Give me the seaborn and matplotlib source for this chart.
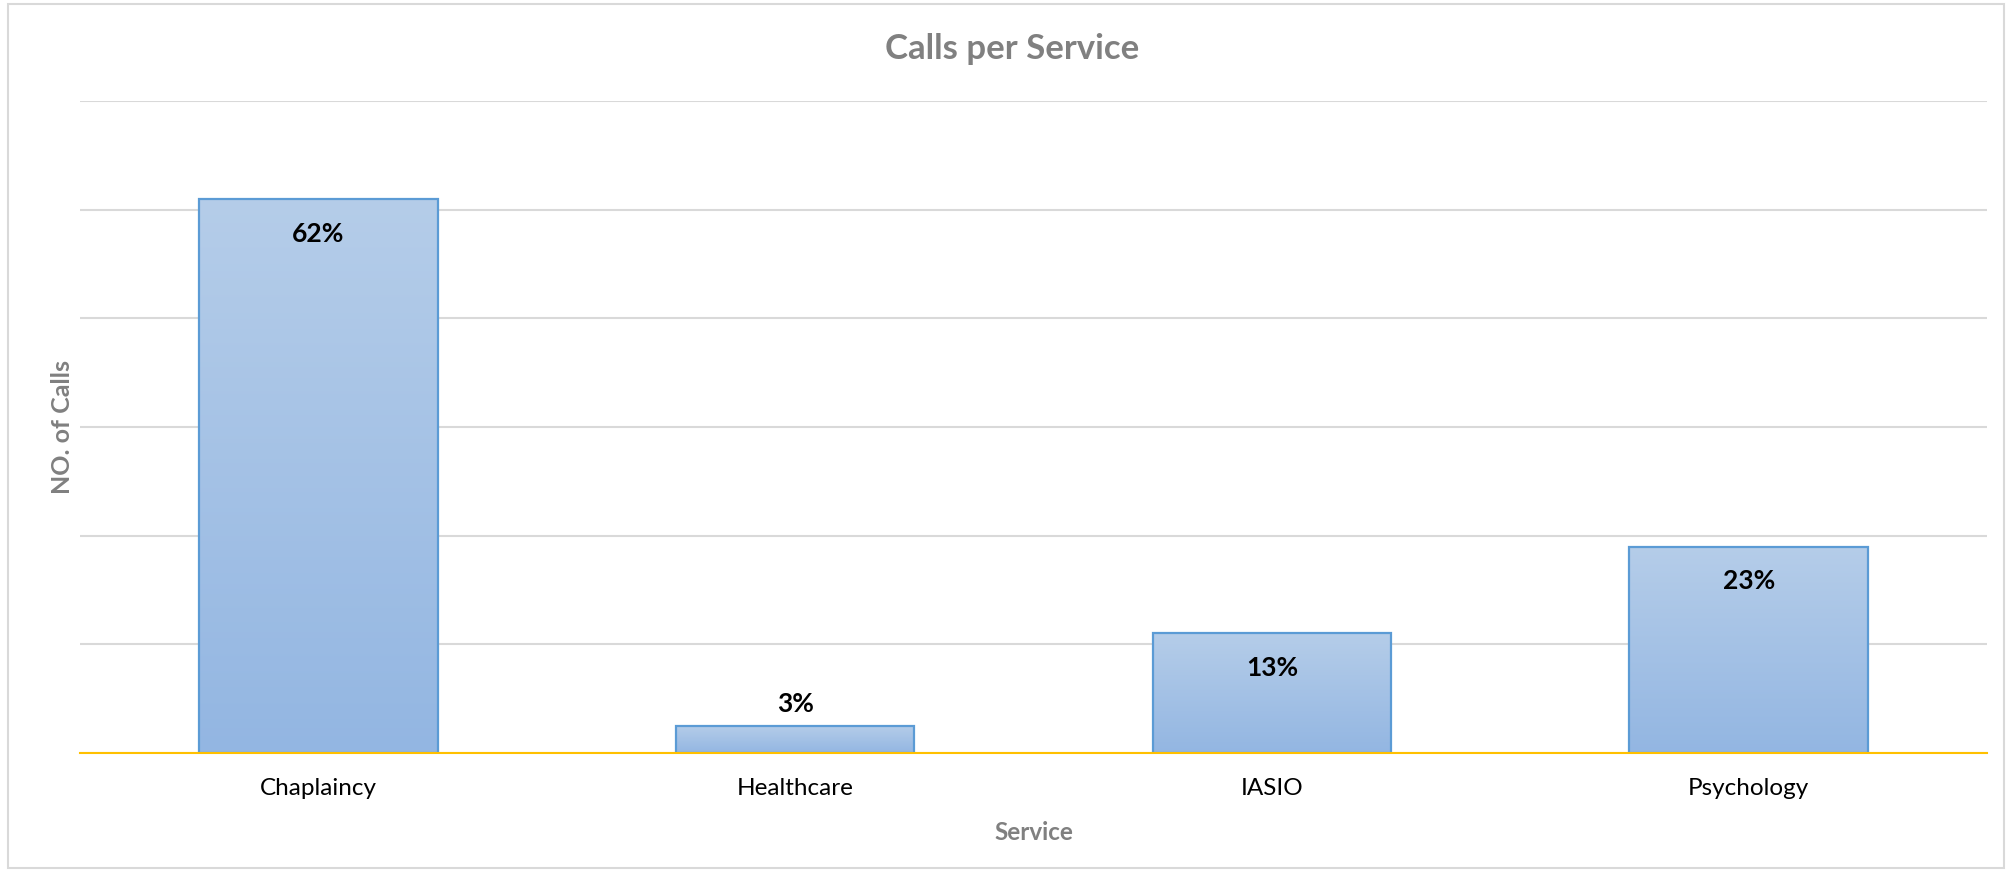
import numpy as np
import pandas as pd
import matplotlib
matplotlib.use("Agg")
import matplotlib.pyplot as plt
import matplotlib.patches as mpatches
from matplotlib.colors import LinearSegmentedColormap
import seaborn as sns

# ---- data ----
services = ["Chaplaincy", "Healthcare", "IASIO", "Psychology"]
calls = [51, 2.5, 11, 19]
pct_labels = ["62%", "3%", "13%", "23%"]

sns.set_theme(style="white")
plt.rcParams["font.family"] = ["Lato", "DejaVu Sans"]

W, H, DPI = 2013, 872, 100
fig = plt.figure(figsize=(W / DPI, H / DPI), dpi=DPI)
ax = fig.add_axes([80 / W, 1 - 753 / H, (1987 - 80) / W, (753 - 101) / H])

df = pd.DataFrame({"Service": services, "Calls": calls})
sns.barplot(data=df, x="Service", y="Calls", ax=ax, width=0.5,
            color="#a5c2e6", edgecolor="#5b9bd5", linewidth=1.6,
            zorder=3)

ax.set_xlim(-0.5, 3.5)
ax.set_ylim(0, 60)
ax.set_yticks(np.arange(0, 61, 10))
ax.set_yticklabels([])
ax.tick_params(axis="y", length=0)
ax.tick_params(axis="x", length=0, labelsize=17.5, colors="black", pad=18)
ax.yaxis.grid(True, color="#d9d9d9", linewidth=1.5, zorder=0)
ax.xaxis.grid(False)
for s in ["left", "right", "top"]:
    ax.spines[s].set_visible(False)
ax.spines["bottom"].set_color("#ffc000")
ax.spines["bottom"].set_linewidth(1.5)
ax.spines["bottom"].set_zorder(5)

# gradient fills
cmap = LinearSegmentedColormap.from_list("g", ["#93b6e2", "#b5cde9"])
grad = np.linspace(0, 1, 256).reshape(-1, 1)
for p in ax.patches:
    x0, y0 = p.get_x(), p.get_y()
    w, h = p.get_width(), p.get_height()
    im = ax.imshow(grad, cmap=cmap, aspect="auto", origin="lower",
                   extent=(x0, x0 + w, y0, y0 + h), zorder=2.5,
                   interpolation="bilinear")
    im.set_clip_path(p)
    p.set_facecolor("none")
ax.set_xlim(-0.5, 3.5)
ax.set_ylim(0, 60)

# value labels
for i, (v, lab) in enumerate(zip(calls, pct_labels)):
    off = -25 if v > 8 else 16
    ax.annotate(lab, (i, v), xytext=(0, off), textcoords="offset points",
                ha="center", va="center", fontsize=19, fontweight="bold",
                color="black", zorder=6)

ax.set_xlabel("Service", fontsize=17.5, fontweight="bold", color="#808080",
              labelpad=16)
ax.set_ylabel("NO. of Calls", fontsize=18, fontweight="bold", color="#808080",
              labelpad=1)
fig.suptitle("Calls per Service", x=0.503, y=1 - 49 / H, va="center",
             fontsize=25, fontweight="bold", color="#808080")

# outer frame
fig.patches.append(mpatches.Rectangle((8 / W, 1 - 868 / H), (2004 - 8) / W,
                                      (868 - 4) / H, transform=fig.transFigure,
                                      fill=False, edgecolor="#d9d9d9",
                                      linewidth=1.5))

fig.savefig("out.png", dpi=DPI)
